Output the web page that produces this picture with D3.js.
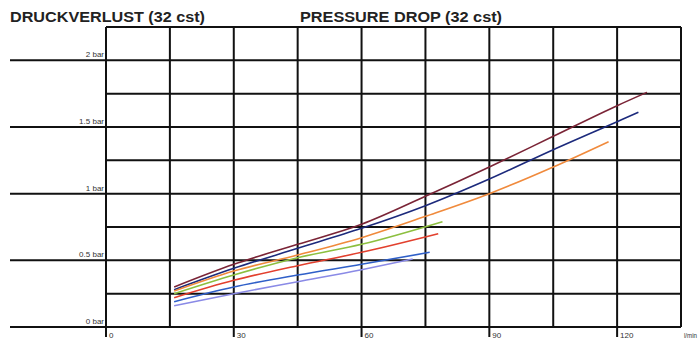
<!DOCTYPE html>
<html>
<head>
<meta charset="utf-8">
<script src="https://cdn.jsdelivr.net/npm/d3@7"></script>
<style>
  html, body { margin: 0; padding: 0; background: #fff; }
  svg { display: block; }
  text { font-family: "Liberation Sans", Arial, sans-serif; }
</style>
</head>
<body>
<div id="chart"></div>
<script>
// flow in l/min, pressure drop in bar
const xTicks = [0, 30, 60, 90, 120];
const yTicks = [0, 0.5, 1, 1.5, 2];
const yTickLabels = ['0 bar', '0.5 bar', '1 bar', '1.5 bar', '2 bar'];
const seriesNames = ['maroon', 'navy', 'orange', 'green', 'red', 'blue', 'lightblue'];
const seriesColors = ['#7a2436', '#1c2a7c', '#f08a3c', '#8cbf3f', '#e2402e', '#2f5fc8', '#8a8ae6'];
const maroonX = [16, 30, 45, 60, 75, 90, 105, 120, 127];
const maroonY = [0.30, 0.47, 0.62, 0.77, 0.98, 1.20, 1.43, 1.66, 1.76];
const navyX = [16, 30, 45, 60, 75, 90, 105, 120, 125];
const navyY = [0.28, 0.44, 0.59, 0.74, 0.91, 1.11, 1.33, 1.54, 1.61];
const orangeX = [16, 30, 45, 60, 75, 90, 105, 118];
const orangeY = [0.27, 0.42, 0.54, 0.67, 0.83, 1.00, 1.20, 1.39];
const greenX = [16, 30, 45, 60, 79];
const greenY = [0.25, 0.39, 0.52, 0.62, 0.79];
const redX = [16, 30, 45, 60, 78];
const redY = [0.22, 0.35, 0.46, 0.56, 0.70];
const blueX = [16, 30, 45, 60, 76];
const blueY = [0.19, 0.30, 0.39, 0.47, 0.56];
const lightblueX = [16, 30, 45, 60, 72];
const lightblueY = [0.16, 0.25, 0.34, 0.43, 0.51];

const seriesX = [maroonX, navyX, orangeX, greenX, redX, blueX, lightblueX];
const seriesY = [maroonY, navyY, orangeY, greenY, redY, blueY, lightblueY];

const width = 698, height = 340;
const svg = d3.select('#chart').append('svg')
    .attr('width', width)
    .attr('height', height);

const x = d3.scaleLinear().domain([0, 135]).range([106, 681]);
const y = d3.scaleLinear().domain([0, 2.25]).range([327, 27]);

// grid
const grid = svg.append('g').attr('stroke', '#111').attr('stroke-width', 2);
d3.range(0, 2.25 + 0.001, 0.25).forEach(v => {
    const major = yTicks.some(t => Math.abs(t - v) < 1e-6);
    grid.append('line')
        .attr('x1', major ? 10 : x(0)).attr('x2', x(135))
        .attr('y1', y(v)).attr('y2', y(v));
});
d3.range(0, 135 + 0.001, 15).forEach(v => {
    const major = xTicks.includes(v);
    grid.append('line')
        .attr('x1', x(v)).attr('x2', x(v))
        .attr('y1', y(2.25)).attr('y2', major ? y(0) + 10 : y(0));
});

// y labels
svg.append('g').selectAll('text')
    .data(yTicks)
    .enter().append('text')
    .attr('x', x(0) - 2)
    .attr('y', d => y(d) - 3)
    .attr('text-anchor', 'end')
    .attr('font-size', 8)
    .attr('fill', '#333')
    .text((d, i) => yTickLabels[i]);

// x labels
svg.append('g').selectAll('text')
    .data(xTicks)
    .enter().append('text')
    .attr('x', d => x(d) + 3)
    .attr('y', y(0) + 11)
    .attr('font-size', 8)
    .attr('fill', '#333')
    .text(d => d);
svg.append('text')
    .attr('x', x(135) + 3)
    .attr('y', y(0) + 11)
    .attr('font-size', 7)
    .attr('fill', '#333')
    .attr('textLength', 13).attr('lengthAdjust', 'spacingAndGlyphs')
    .text('l/min');

// titles
svg.append('text')
    .attr('x', 10).attr('y', 22)
    .attr('font-size', 14).attr('font-weight', 'bold')
    .attr('fill', '#222')
    .attr('textLength', 195).attr('lengthAdjust', 'spacingAndGlyphs')
    .text('DRUCKVERLUST (32 cst)');
svg.append('text')
    .attr('x', 300).attr('y', 22)
    .attr('font-size', 14).attr('font-weight', 'bold')
    .attr('fill', '#222')
    .attr('textLength', 202).attr('lengthAdjust', 'spacingAndGlyphs')
    .text('PRESSURE DROP (32 cst)');

// curves
const line = d3.line()
    .x(d => x(d[0]))
    .y(d => y(d[1]))
    .curve(d3.curveMonotoneX);

seriesNames.forEach((name, i) => {
    const pts = seriesX[i].map((v, j) => [v, seriesY[i][j]]);
    svg.append('path')
        .datum(pts)
        .attr('class', name)
        .attr('fill', 'none')
        .attr('stroke', seriesColors[i])
        .attr('stroke-width', 1.6)
        .attr('d', line);
});
</script>
</body>
</html>
